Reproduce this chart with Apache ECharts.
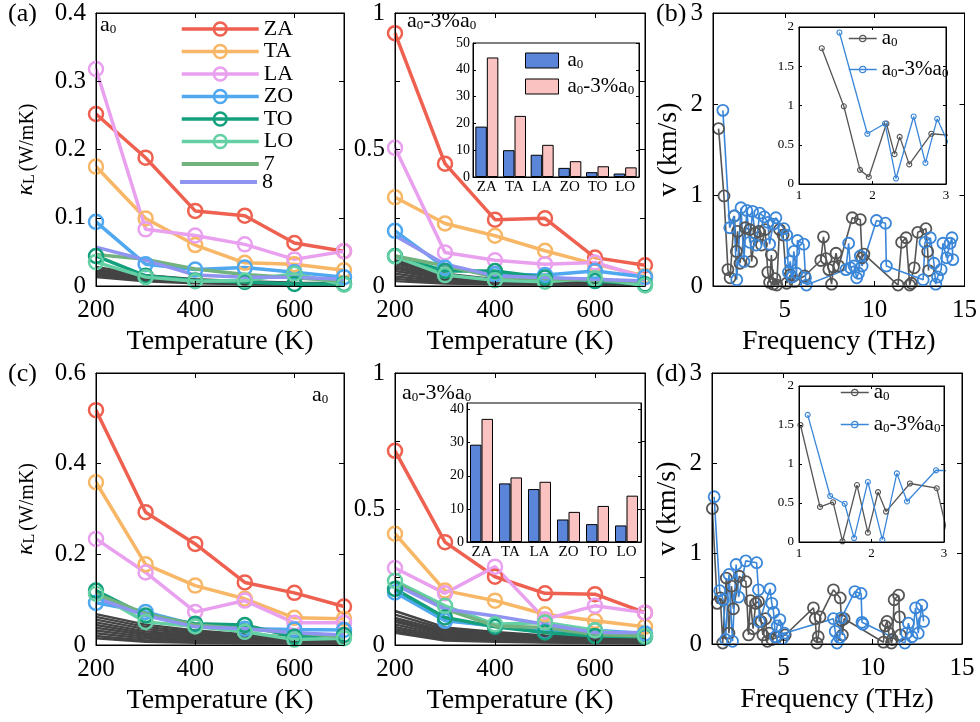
<!DOCTYPE html>
<html><head><meta charset="utf-8">
<script src="https://cdn.jsdelivr.net/npm/echarts@6/dist/echarts.min.js"></script>
<style>html,body{margin:0;padding:0;background:#fff}#c{width:980px;height:722px}</style>
</head><body><div id="c"></div>
<script>
// ---------------- DATA ----------------
const temps = [200, 300, 400, 500, 600, 700];
const modeNames = ['ZA', 'TA', 'LA', 'ZO', 'TO', 'LO', '7', '8'];
const barModes = ['ZA', 'TA', 'LA', 'ZO', 'TO', 'LO'];

// panel (a): a0, rows = ZA,TA,LA,ZO,TO,LO,7,8
const kappaA = [
  [0.252, 0.188, 0.110, 0.103, 0.063, 0.051],
  [0.175, 0.099, 0.060, 0.034, 0.032, 0.023],
  [0.318, 0.083, 0.074, 0.061, 0.039, 0.051],
  [0.094, 0.032, 0.024, 0.027, 0.020, 0.013],
  [0.044, 0.015, 0.008, 0.006, 0.003, 0.003],
  [0.035, 0.013, 0.007, 0.008, 0.018, 0.002],
  [0.046, 0.039, 0.025, 0.017, 0.012, 0.007],
  [0.057, 0.038, 0.016, 0.013, 0.013, 0.010]
];
const kappaAGray = [
  [0.028, 0.016, 0.010, 0.007, 0.005, 0.004],
  [0.025, 0.014, 0.009, 0.006, 0.004, 0.003],
  [0.023, 0.012, 0.008, 0.005, 0.004, 0.003],
  [0.021, 0.011, 0.007, 0.005, 0.003, 0.002],
  [0.019, 0.010, 0.006, 0.004, 0.003, 0.002],
  [0.017, 0.009, 0.005, 0.004, 0.003, 0.002],
  [0.015, 0.008, 0.005, 0.003, 0.002, 0.002],
  [0.013, 0.007, 0.004, 0.003, 0.002, 0.001]
];
// panel (a2): a0-3%a0
const kappaA2 = [
  [0.926, 0.448, 0.243, 0.248, 0.104, 0.076],
  [0.325, 0.229, 0.184, 0.129, 0.080, 0.037],
  [0.506, 0.123, 0.094, 0.080, 0.086, 0.031],
  [0.202, 0.067, 0.043, 0.040, 0.055, 0.033],
  [0.110, 0.055, 0.055, 0.031, 0.018, 0.006],
  [0.108, 0.040, 0.021, 0.016, 0.028, 0.002],
  [0.110, 0.074, 0.033, 0.027, 0.021, 0.016],
  [0.184, 0.080, 0.037, 0.031, 0.025, 0.018]
];
const kappaA2Gray = [
  [0.095, 0.045, 0.025, 0.018, 0.013, 0.010],
  [0.088, 0.040, 0.022, 0.016, 0.012, 0.009],
  [0.080, 0.036, 0.020, 0.014, 0.011, 0.008],
  [0.072, 0.032, 0.018, 0.013, 0.010, 0.007],
  [0.064, 0.028, 0.016, 0.012, 0.009, 0.007],
  [0.055, 0.025, 0.014, 0.010, 0.008, 0.006],
  [0.045, 0.020, 0.012, 0.009, 0.007, 0.005],
  [0.035, 0.016, 0.010, 0.007, 0.006, 0.004],
  [0.026, 0.012, 0.008, 0.006, 0.005, 0.004],
  [0.018, 0.009, 0.006, 0.005, 0.004, 0.003]
];
// inset of (a2): percentages
const barTopA0 = [18.8, 10.0, 8.3, 3.4, 1.8, 1.3];
const barTopA03 = [44.6, 22.8, 12.0, 5.9, 4.0, 3.6];

// panel (c): a0
const kappaC = [
  [0.518, 0.293, 0.223, 0.138, 0.115, 0.085],
  [0.359, 0.178, 0.131, 0.102, 0.060, 0.058],
  [0.234, 0.160, 0.073, 0.098, 0.049, 0.049],
  [0.093, 0.073, 0.044, 0.036, 0.034, 0.033],
  [0.120, 0.065, 0.047, 0.044, 0.018, 0.022],
  [0.113, 0.051, 0.041, 0.029, 0.012, 0.015],
  [0.113, 0.069, 0.044, 0.036, 0.027, 0.018],
  [0.104, 0.065, 0.040, 0.036, 0.027, 0.022]
];
const kappaCGray = [
  [0.068, 0.045, 0.032, 0.024, 0.018, 0.014],
  [0.062, 0.040, 0.028, 0.021, 0.016, 0.012],
  [0.056, 0.035, 0.025, 0.019, 0.014, 0.011],
  [0.050, 0.030, 0.022, 0.017, 0.013, 0.010],
  [0.044, 0.026, 0.019, 0.015, 0.011, 0.009],
  [0.038, 0.022, 0.016, 0.013, 0.010, 0.008],
  [0.032, 0.018, 0.013, 0.011, 0.008, 0.006],
  [0.026, 0.014, 0.010, 0.008, 0.007, 0.005],
  [0.020, 0.010, 0.008, 0.006, 0.005, 0.004],
  [0.015, 0.007, 0.005, 0.004, 0.003, 0.003]
];
// panel (c2): a0-3%a0
const kappaC2 = [
  [0.714, 0.378, 0.251, 0.190, 0.187, 0.119],
  [0.409, 0.200, 0.163, 0.113, 0.089, 0.067],
  [0.283, 0.190, 0.288, 0.095, 0.144, 0.119],
  [0.193, 0.089, 0.070, 0.049, 0.054, 0.042],
  [0.206, 0.101, 0.067, 0.046, 0.033, 0.030],
  [0.236, 0.144, 0.076, 0.083, 0.054, 0.033],
  [0.230, 0.132, 0.070, 0.064, 0.039, 0.033],
  [0.222, 0.132, 0.107, 0.076, 0.046, 0.046]
];
const kappaC2Gray = [
  [0.125, 0.065, 0.048, 0.035, 0.028, 0.022],
  [0.112, 0.058, 0.043, 0.031, 0.025, 0.020],
  [0.100, 0.052, 0.038, 0.028, 0.022, 0.018],
  [0.092, 0.046, 0.034, 0.025, 0.020, 0.016],
  [0.085, 0.040, 0.030, 0.022, 0.018, 0.014],
  [0.076, 0.034, 0.026, 0.019, 0.016, 0.012],
  [0.066, 0.029, 0.022, 0.016, 0.013, 0.010],
  [0.058, 0.024, 0.018, 0.013, 0.011, 0.009],
  [0.050, 0.020, 0.015, 0.011, 0.009, 0.007],
  [0.045, 0.016, 0.012, 0.009, 0.007, 0.006]
];
const barBotA0 = [29.4, 17.7, 16.0, 6.8, 5.4, 5.0];
const barBotA03 = [37.2, 19.5, 18.2, 9.1, 10.9, 14.0];

// panel (b): group velocity [frequency THz, v km/s]
const velB_a0 = [[1.31,1.73],[1.61,0.99],[1.83,0.18],[1.95,0.09],[2.19,0.77],[2.30,0.38],[2.37,0.60],[2.50,0.25],[2.80,0.64],[3.05,0.62],[3.15,0.27],[3.35,0.58],[3.55,0.60],[3.70,0.45],[3.90,0.62],[4.05,0.15],[4.15,0.04],[4.25,0.34],[4.35,0.02],[4.45,0.08],[4.55,0.01],[4.70,0.62],[4.90,0.56],[5.10,0.03],[5.30,0.12],[5.55,0.05],[6.10,0.11],[7.00,0.28],[7.15,0.54],[7.30,0.30],[7.45,0.18],[7.60,0.02],[7.70,0.21],[7.85,0.36],[8.00,0.22],[8.75,0.75],[9.20,0.73],[9.30,0.31],[9.40,0.35],[11.30,0.01],[11.50,0.48],[11.75,0.53],[11.95,0.01],[12.05,0.03],[12.20,0.20],[12.40,0.59],[12.85,0.63],[12.95,0.38],[13.00,0.17]];
const velB_a03 = [[1.55,1.93],[1.93,0.64],[2.17,0.77],[2.32,0.07],[2.56,0.86],[2.72,0.27],[2.88,0.83],[3.05,0.48],[3.20,0.82],[3.40,0.45],[3.60,0.80],[3.85,0.76],[4.05,0.70],[4.15,0.46],[4.35,0.68],[4.50,0.75],[4.95,0.63],[5.10,0.56],[5.20,0.15],[5.30,0.27],[5.40,0.10],[5.50,0.38],[5.65,0.14],[5.70,0.50],[6.05,0.46],[6.15,0.09],[6.20,0.01],[8.40,0.18],[8.55,0.47],[8.65,0.20],[8.85,0.22],[9.00,0.09],[9.10,0.14],[9.20,0.33],[9.30,0.22],[10.10,0.72],[10.60,0.69],[10.65,0.22],[12.70,0.07],[12.80,0.48],[13.10,0.53],[13.30,0.25],[13.40,0.02],[13.50,0.10],[13.70,0.18],[13.80,0.47],[14.00,0.31],[14.20,0.47],[14.30,0.53],[14.35,0.29]];
// panel (d)
const velD_a0 = [[1.02,1.50],[1.29,0.45],[1.47,0.51],[1.60,0.01],[1.80,0.73],[1.95,0.12],[2.09,0.64],[2.20,0.39],[2.53,0.75],[2.90,0.69],[3.05,0.10],[3.15,0.48],[3.30,0.17],[3.45,0.45],[3.60,0.47],[3.75,0.25],[3.85,0.10],[4.00,0.28],[4.10,0.03],[4.20,0.12],[4.35,0.05],[4.60,0.07],[5.10,0.10],[6.68,0.40],[6.78,0.28],[6.87,0.01],[6.95,0.08],[7.05,0.30],[7.80,0.60],[8.18,0.51],[8.25,0.26],[8.30,0.10],[8.40,0.28],[10.60,0.02],[10.70,0.20],[10.80,0.25],[10.90,0.12],[11.05,0.01],[11.10,0.05],[11.20,0.49],[11.45,0.54],[11.50,0.30],[11.55,0.10]];
const velD_a03 = [[1.12,1.63],[1.43,0.59],[1.63,0.49],[1.76,0.05],[1.95,0.77],[2.15,0.03],[2.35,0.88],[2.49,0.52],[2.89,0.92],[3.50,0.90],[3.60,0.60],[3.65,0.25],[4.25,0.61],[4.35,0.45],[4.45,0.35],[4.55,0.08],[4.65,0.20],[4.80,0.27],[4.95,0.06],[5.05,0.12],[7.80,0.28],[7.90,0.14],[8.00,0.01],[8.15,0.07],[8.25,0.29],[9.00,0.58],[9.35,0.56],[9.40,0.24],[9.45,0.22],[11.80,0.01],[11.90,0.12],[12.00,0.23],[12.20,0.08],[12.40,0.40],[12.55,0.12],[12.75,0.43],[12.85,0.25]];

// tick values
const tempTicks = [200, 400, 600];
const freqTicks = [5, 10];
const freqLabels = [5, 10, 15];

// ---------------- STYLE / BUILD ----------------
const FONT = 'Liberation Serif';
const modeColors = ['#EE6150', '#F7B766', '#E9A0EE', '#4FA8F0', '#15A07D', '#66D0A5', '#72B27E', '#8F94F0'];
const grayColor = '#444444';
const vBlack = '#555555', vBlue = '#3A86D8';
const barBlue = '#5A85D8', barPink = '#FBC2C2';

const grids = [], xAxes = [], yAxes = [], series = [];

function mkAxis(gi, z, pos, sc, lab, tickLen, nameOpt) {
  const a = {
    gridIndex: gi, z: z, position: pos, type: sc.type || 'value',
    axisLine: {show: true, onZero: false, lineStyle: {color: '#000', width: 1}},
    axisTick: {show: !sc.noTick, inside: true, length: tickLen, lineStyle: {color: '#000', width: 1}},
    splitLine: {show: false}, minorTick: {show: false}
  };
  if (a.type === 'category') { a.data = sc.data; a.boundaryGap = true; }
  else { a.min = sc.min; a.max = sc.max; if (sc.interval != null) a.interval = sc.interval; }
  if (sc.tickValues) a.axisTick.customValues = sc.tickValues;
  if (lab) {
    a.axisLabel = Object.assign({show: true, color: '#000', fontFamily: FONT}, lab);
    if (sc.labelValues) a.axisLabel.customValues = sc.labelValues;
  } else a.axisLabel = {show: false};
  if (nameOpt) Object.assign(a, nameOpt);
  return a;
}
function addPanel(rect, xs, ys, o) {
  const gi = grids.length, z = o.z || 0;
  grids.push({left: rect[0], top: rect[1], width: rect[2], height: rect[3], show: true,
    borderColor: '#000', borderWidth: 1, backgroundColor: o.bg || 'rgba(0,0,0,0)', z: z});
  const xi = xAxes.length;
  xAxes.push(mkAxis(gi, z + 4, 'bottom', xs, o.xLab, o.tick, o.xName));
  if (xs.type !== 'category') xAxes.push(mkAxis(gi, z + 4, 'top', xs, null, o.tick));
  const yi = yAxes.length;
  yAxes.push(mkAxis(gi, z + 4, 'left', ys, o.yLab, o.tick, o.yName));
  yAxes.push(mkAxis(gi, z + 4, 'right', ys, null, o.tick));
  return {xi, yi, z};
}

const mainLab = {fontSize: 25, margin: 10};
const mainXLab = {fontSize: 25, margin: 12};
const titleStyle = {fontSize: 28, fontFamily: FONT, color: '#000'};
const tempName = {name: 'Temperature (K)', nameLocation: 'middle', nameGap: 42, nameTextStyle: titleStyle};
const freqName = {name: 'Frequency (THz)', nameLocation: 'middle', nameGap: 42, nameTextStyle: titleStyle};
const kappaName = {name: '{k|κ}{l|L}{u|(W/mK)}', nameLocation: 'middle', nameGap: 58, nameRotate: 90,
  nameTextStyle: {rich: {
    k: {fontSize: 24, fontStyle: 'italic', fontFamily: FONT, color: '#000', verticalAlign: 'bottom'},
    l: {fontSize: 16, fontFamily: FONT, color: '#000', verticalAlign: 'bottom'},
    u: {fontSize: 20, fontFamily: FONT, color: '#000', verticalAlign: 'bottom', padding: [0, 0, 0, 3]}
  }}};
const velName = {name: 'v (km/s)', nameLocation: 'middle', nameGap: 30, nameRotate: 90, nameTextStyle: titleStyle};

const tempScale = {min: 200, max: 700, tickValues: tempTicks, labelValues: tempTicks};
const freqScale = {min: 1, max: 15, tickValues: freqTicks, labelValues: freqLabels};

const pA = addPanel([96, 13, 248, 273], tempScale, {min: 0, max: 0.4, interval: 0.1},
  {tick: 5, xLab: mainXLab, yLab: mainLab, xName: tempName, yName: kappaName});
const pA2 = addPanel([395, 13, 250, 273], tempScale, {min: 0, max: 1, interval: 0.25, labelValues: [0, 0.5, 1]},
  {tick: 5, xLab: mainXLab, yLab: mainLab, xName: tempName});
const pA2in = addPanel([473, 43, 166, 134], {type: 'category', data: barModes, noTick: true},
  {min: 0, max: 50, interval: 10}, {tick: 3, z: 10, bg: '#fff',
  xLab: {fontSize: 15, margin: 3}, yLab: {fontSize: 14, margin: 3}});
const pB = addPanel([713, 13, 252, 273], freqScale, {min: 0, max: 3, interval: 1},
  {tick: 5, xLab: mainXLab, yLab: mainLab, xName: freqName, yName: velName});
const pBin = addPanel([799, 27, 147, 157], {min: 1, max: 3, interval: 1}, {min: 0, max: 2, interval: 0.5},
  {tick: 3, z: 10, bg: '#fff', xLab: {fontSize: 13, margin: 5}, yLab: {fontSize: 13, margin: 5}});
const pC = addPanel([96, 373, 248, 272], tempScale, {min: 0, max: 0.6, interval: 0.2},
  {tick: 5, xLab: mainXLab, yLab: mainLab, xName: tempName, yName: kappaName});
const pC2 = addPanel([395, 373, 250, 272], tempScale, {min: 0, max: 1, interval: 0.25, labelValues: [0, 0.5, 1]},
  {tick: 5, xLab: mainXLab, yLab: mainLab, xName: tempName});
const pC2in = addPanel([467, 403, 174, 139], {type: 'category', data: barModes, noTick: true},
  {min: 0, max: 42, tickValues: [0, 10, 20, 30, 40], labelValues: [0, 10, 20, 30, 40]},
  {tick: 3, z: 10, bg: '#fff', xLab: {fontSize: 15, margin: 3}, yLab: {fontSize: 14, margin: 3}});
const pD = addPanel([712, 373, 250, 271], freqScale, {min: 0, max: 3, interval: 1},
  {tick: 5, xLab: mainXLab, yLab: mainLab, xName: freqName, yName: velName});
const pDin = addPanel([799, 386, 145, 156], {min: 1, max: 3, interval: 1}, {min: 0, max: 2, interval: 0.5},
  {tick: 3, z: 10, bg: '#fff', xLab: {fontSize: 13, margin: 5}, yLab: {fontSize: 13, margin: 5}});

function kappaSeries(p, modes, grays) {
  grays.forEach(g => series.push({type: 'line', name: 'gray', xAxisIndex: p.xi, yAxisIndex: p.yi,
    data: temps.map((t, i) => [t, g[i]]), symbol: 'none', silent: true, clip: false,
    lineStyle: {color: grayColor, width: 2.4}, itemStyle: {color: grayColor}, z: 2}));
  modes.forEach((row, k) => {
    const c = modeColors[k], mk = k < 6;
    series.push({type: 'line', name: modeNames[k], xAxisIndex: p.xi, yAxisIndex: p.yi,
      data: temps.map((t, i) => [t, row[i]]), clip: false,
      symbol: mk ? 'circle' : 'none', symbolSize: 14,
      itemStyle: mk ? {color: 'rgba(0,0,0,0)', borderColor: c, borderWidth: 2.5} : {color: c, borderColor: c},
      lineStyle: {color: c, width: 3.5}, z: 3});
  });
}
kappaSeries(pA, kappaA, kappaAGray);
kappaSeries(pA2, kappaA2, kappaA2Gray);
kappaSeries(pC, kappaC, kappaCGray);
kappaSeries(pC2, kappaC2, kappaC2Gray);

function barSeries(p, a0, a03) {
  [[a0, 'bar_a0', barBlue], [a03, 'bar_a03', barPink]].forEach(([d, n, c]) => series.push({
    type: 'bar', name: n, xAxisIndex: p.xi, yAxisIndex: p.yi, data: d, barWidth: 11.5, barGap: '0%',
    itemStyle: {color: c, borderColor: '#000', borderWidth: 1}, z: p.z + 2}));
}
barSeries(pA2in, barTopA0, barTopA03);
barSeries(pC2in, barBotA0, barBotA03);

function velSeries(p, d, n, c, size, lw, bw, clip) {
  series.push({type: 'line', name: n, xAxisIndex: p.xi, yAxisIndex: p.yi, data: d, clip: clip,
    symbol: 'circle', symbolSize: size, itemStyle: {color: 'rgba(0,0,0,0)', borderColor: c, borderWidth: bw},
    lineStyle: {color: c, width: lw}, z: p.z + 3});
}
velSeries(pB, velB_a0, 'v_a0', vBlack, 11, 1.6, 1.8, false);
velSeries(pB, velB_a03, 'v_a03', vBlue, 11, 1.6, 1.8, false);
velSeries(pBin, velB_a0, 'v_a0', vBlack, 5, 1.3, 1.1, true);
velSeries(pBin, velB_a03, 'v_a03', vBlue, 5, 1.3, 1.1, true);
velSeries(pD, velD_a0, 'v_a0', vBlack, 11, 1.6, 1.8, false);
velSeries(pD, velD_a03, 'v_a03', vBlue, 11, 1.6, 1.8, false);
velSeries(pDin, velD_a0, 'v_a0', vBlack, 5, 1.3, 1.1, true);
velSeries(pDin, velD_a03, 'v_a03', vBlue, 5, 1.3, 1.1, true);

// rich text helpers
function subRich(fs) {
  return {
    n: {fontSize: fs, fontFamily: FONT, color: '#000', fill: '#000', verticalAlign: 'bottom'},
    s: {fontSize: Math.round(fs * 0.6), fontFamily: FONT, color: '#000', fill: '#000', verticalAlign: 'bottom'}
  };
}
const A0 = '{n|a}{s|0}';
const A03 = '{n|a}{s|0}{n|-3%a}{s|0}';
const nameMap = {bar_a0: A0, bar_a03: A03, v_a0: A0, v_a03: A03};

const lineIcon = 'path://M0,0L80,0L80,4L0,4Z';
const legends = [
  {data: ['ZA', 'TA', 'LA', 'ZO', 'TO', 'LO', {name: '7', icon: lineIcon, itemStyle: {borderWidth: 0}}],
    orient: 'vertical', left: 180, top: 18, padding: 0, itemWidth: 77, itemHeight: 16, itemGap: 0.5,
    textStyle: {fontSize: 22, fontFamily: FONT, color: '#000', lineHeight: 22},
    lineStyle: {width: 3.5}, itemStyle: {borderWidth: 2.5}, selectedMode: false},
  {data: [{name: '8', icon: lineIcon, itemStyle: {borderWidth: 0}}],
    orient: 'vertical', left: 180, top: 171, padding: 0, itemWidth: 77, itemHeight: 16,
    textStyle: {fontSize: 22, fontFamily: FONT, color: '#000', lineHeight: 22}, selectedMode: false},
  {data: [{name: 'bar_a0', icon: 'rect'}, {name: 'bar_a03', icon: 'rect'}],
    orient: 'vertical', left: 525, top: 50, padding: 0, itemWidth: 33, itemHeight: 15, itemGap: 5, z: 20,
    itemStyle: {borderColor: '#000', borderWidth: 1},
    formatter: n => nameMap[n], textStyle: {rich: subRich(21), padding: [0, 0, 0, 4]}, selectedMode: false},
  {data: ['v_a0', 'v_a03'], orient: 'vertical', left: 848, top: 28, padding: 0, itemWidth: 28, itemHeight: 8, itemGap: 10, z: 20,
    lineStyle: {width: 1.5}, itemStyle: {borderWidth: 1.2},
    formatter: n => nameMap[n], textStyle: {rich: subRich(21)}, selectedMode: false},
  {data: ['v_a0', 'v_a03'], orient: 'vertical', left: 840, top: 382, padding: 0, itemWidth: 28, itemHeight: 8, itemGap: 11, z: 20,
    lineStyle: {width: 1.5}, itemStyle: {borderWidth: 1.2},
    formatter: n => nameMap[n], textStyle: {rich: subRich(21)}, selectedMode: false}
];

function label(x, y, t, fs) {
  return {type: 'text', x: x, y: y, z: 30, style: {text: t, fontSize: fs, fontFamily: FONT, fill: '#000', verticalAlign: 'middle', align: 'left'}};
}
function richLabel(x, y, t, fs) {
  return {type: 'text', x: x, y: y, z: 30, style: {text: t, rich: subRich(fs), fill: '#000', verticalAlign: 'middle', align: 'left'}};
}
const graphics = [
  label(8, 14, '(a)', 26), label(656, 14, '(b)', 26), label(8, 374, '(c)', 26), label(656, 374, '(d)', 26),
  richLabel(100, 25, A0, 22), richLabel(407, 21, A03, 22),
  richLabel(312, 395, A0, 22), richLabel(402, 393, A03, 22)
];

const chart = echarts.init(document.getElementById('c'), null, {renderer: 'canvas'});
chart.setOption({
  animation: false, backgroundColor: '#fff', textStyle: {fontFamily: FONT},
  grid: grids, xAxis: xAxes, yAxis: yAxes, series: series, legend: legends, graphic: graphics
});
</script></body></html>
